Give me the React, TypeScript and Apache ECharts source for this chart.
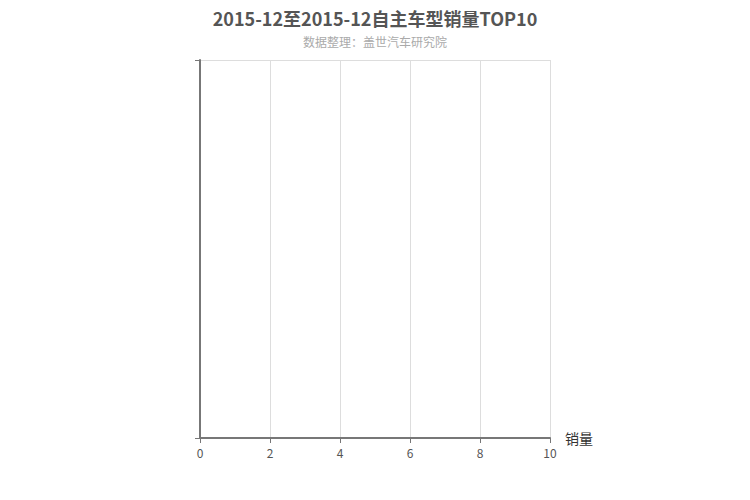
import { useEffect, useRef } from 'react'
import * as echarts from 'echarts'

// 数据（该月没有数据，图表为空）
const titleText = '2015-12至2015-12自主车型销量TOP10'
const subText = '数据整理：盖世汽车研究院'
const models: string[] = ['']
const sales: number[] = []
const xMin = 0
const xMax = 10
const xInterval = 2

export default function App() {
  const chartRef = useRef<HTMLDivElement>(null)

  useEffect(() => {
    if (!chartRef.current) return
    document.body.style.margin = '0'
    const chart = echarts.init(chartRef.current, null, { renderer: 'svg' })

    const option: echarts.EChartsOption = {
      animation: false,
      textStyle: { fontFamily: '"Noto Sans CJK SC", "Noto Sans", sans-serif' },
      title: {
        text: titleText,
        subtext: subText,
        left: 'center',
        top: 4,
        itemGap: 9,
        textStyle: { fontSize: 18, fontWeight: 'bold', color: '#555' },
        subtextStyle: { fontSize: 12, color: '#aaa' }
      },
      grid: { left: 200, right: 200, top: 60, bottom: 62 },
      xAxis: {
        type: 'value',
        min: xMin,
        max: xMax,
        interval: xInterval,
        name: '销量',
        nameGap: 15,
        nameTextStyle: { fontSize: 14, color: '#333' },
        axisLine: { show: true, lineStyle: { color: '#777', width: 2 } },
        axisTick: { show: true, length: 5, lineStyle: { color: '#777' } },
        axisLabel: { color: '#555', fontSize: 12 },
        splitLine: { show: true, lineStyle: { color: '#ddd' } }
      },
      yAxis: {
        type: 'category',
        data: models,
        axisLine: { show: true, lineStyle: { color: '#777', width: 2 } },
        axisTick: { show: true, length: 5, lineStyle: { color: '#777' } },
        axisLabel: { color: '#555' },
        splitLine: { show: true, lineStyle: { color: '#ddd' } }
      },
      series: [
        {
          name: '销量',
          type: 'bar',
          data: sales,
          itemStyle: { color: '#4f81bd' }
        }
      ]
    }

    chart.setOption(option)
    return () => {
      chart.dispose()
    }
  }, [])

  return <div ref={chartRef} style={{ width: 750, height: 500 }} />
}
